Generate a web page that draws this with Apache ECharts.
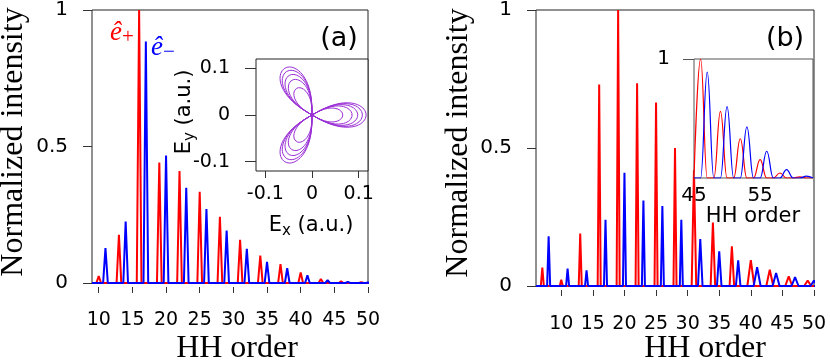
<!DOCTYPE html>
<html><head><meta charset="utf-8">
<script src="https://cdn.jsdelivr.net/npm/echarts@6/dist/echarts.min.js"></script>
<style>html,body{margin:0;padding:0;background:#fff}#c{width:830px;height:363px}</style>
</head><body><div id="c"></div>
<script>
// ---- tick labels ----
const xTicksMain = [10, 15, 20, 25, 30, 35, 40, 45, 50];
const yTicksMain = [0, 0.5, 1];
const insetATicks = [-0.1, 0, 0.1];
const insetBXTicks = [45, 55];
const insetBYTicks = [1];

// ---- panel (a) harmonic peaks ----
const aRedOrders  = [10, 13, 16, 19, 22, 25, 28, 31, 34, 37, 40, 43, 46, 49];
const aRedPeaks   = [0.025, 0.177, 1.0, 0.441, 0.41, 0.334, 0.243, 0.158, 0.10, 0.069, 0.039, 0.015, 0.006, 0.003];
const aBlueOrders = [11, 14, 17, 20, 23, 26, 29, 32, 35, 38, 41, 44, 47, 50];
const aBluePeaks  = [0.128, 0.225, 0.885, 0.467, 0.349, 0.271, 0.192, 0.125, 0.077, 0.054, 0.028, 0.010, 0.004, 0.002];

// ---- panel (a) inset: field loop amplitudes (a.u.) ----
const insetALoopAmps = [0.116, 0.108, 0.098, 0.086, 0.066];

// ---- panel (b) harmonic peaks ----
const bRedOrders  = [7, 10, 13, 16, 19, 22, 25, 28, 31, 34, 37, 40, 43, 46, 49];
const bRedPeaks   = [0.067, 0.023, 0.19, 0.73, 1.0, 0.735, 0.665, 0.50, 0.42, 0.23, 0.144, 0.094, 0.059, 0.035, 0.02];
const bBlueOrders = [8, 11, 14, 17, 20, 23, 26, 29, 32, 35, 38, 41, 44, 47, 50];
const bBluePeaks  = [0.18, 0.063, 0.057, 0.24, 0.41, 0.31, 0.29, 0.24, 0.17, 0.126, 0.093, 0.068, 0.047, 0.032, 0.02];

// ---- panel (b) inset (renormalised tail) ----
const ibRedOrders  = [46, 49, 52, 55, 58, 61];
const ibRedPeaks   = [1.0, 0.56, 0.33, 0.155, 0.042, 0.01];
const ibBlueOrders = [47, 50, 53, 56, 59, 62];
const ibBluePeaks  = [0.89, 0.60, 0.43, 0.225, 0.07, 0.015];

function peakLine(orders, peaks, halfW, xmin, xmax) {
  const d = [[xmin, 0]];
  orders.forEach((o, i) => {
    const w = typeof halfW === 'function' ? halfW(o) : halfW;
    d.push([o - w, 0], [o, peaks[i]], [o + w, 0]);
  });
  d.push([xmax, 0]);
  return d;
}
function fieldLoops(amps) {
  const pts = [];
  amps.forEach(a => {
    for (let k = 0; k <= 180; k++) {
      const th = Math.PI / 6 + Math.PI * k / 180;
      const c = Math.cos(3 * th);
      const r = a * Math.sign(c) * Math.pow(Math.abs(c), 0.6);
      pts.push([r * Math.cos(th), r * Math.sin(th)]);
    }
  });
  return pts;
}
const bWidth = o => (o < 30 ? 0.24 : (o < 40 ? 0.36 : 0.55));

const SANS = 'DejaVu Sans', SERIF = 'Liberation Serif';
const RED = '#ff0000', BLUE = '#0000ff', PURPLE = '#9a2fd6';

function mainX(idx, min, max, margin) {
  return { gridIndex: idx, type: 'value', min, max, offset: 4, position: 'bottom',
    axisLine: { show: false, onZero: false },
    axisTick: { show: true, length: 6, customValues: xTicksMain, lineStyle: { color: '#333' } },
    axisLabel: { customValues: xTicksMain, fontFamily: SANS, fontSize: 19, color: '#000', margin },
    splitLine: { show: false } };
}
function mainY(idx) {
  return { gridIndex: idx, type: 'value', min: 0, max: 1, position: 'left',
    axisLine: { show: false, onZero: false },
    axisTick: { show: true, length: 9, customValues: yTicksMain, lineStyle: { color: '#333' } },
    axisLabel: { customValues: yTicksMain, fontFamily: SANS, fontSize: 20, color: '#000', margin: 24 },
    splitLine: { show: false } };
}

const chart = echarts.init(document.getElementById('c'), null, { renderer: 'canvas' });
chart.setOption({
  animation: false,
  backgroundColor: '#fff',
  textStyle: { fontFamily: SANS },
  grid: [
    { left: 92, top: 7, width: 276, height: 276, show: true, borderColor: '#222', borderWidth: 1, backgroundColor: 'transparent' },
    { left: 256, top: 59, width: 112, height: 112, show: true, borderColor: '#222', borderWidth: 1, backgroundColor: '#fff', z: 4 },
    { left: 536, top: 8, width: 278, height: 278, show: true, borderColor: '#222', borderWidth: 1, backgroundColor: 'transparent' },
    { left: 694, top: 59, width: 119, height: 119, show: true, borderColor: '#555', borderWidth: 1, backgroundColor: '#fff', z: 4 }
  ],
  xAxis: [
    mainX(0, 9, 50, 24),
    { gridIndex: 1, type: 'value', min: -0.12, max: 0.12, z: 6, position: 'bottom',
      axisLine: { show: false, onZero: false },
      axisTick: { show: true, length: 7, customValues: insetATicks, lineStyle: { color: '#333' } },
      axisLabel: { customValues: insetATicks, fontFamily: SANS, fontSize: 19, color: '#000', margin: 14 },
      splitLine: { show: false } },
    mainX(2, 6, 50, 25),
    { gridIndex: 3, type: 'value', min: 45, max: 63, z: 6, position: 'bottom',
      axisLine: { show: false, onZero: false },
      axisTick: { show: false },
      axisLabel: { customValues: insetBXTicks, fontFamily: SANS, fontSize: 20, color: '#000', margin: 8 },
      splitLine: { show: false } }
  ],
  yAxis: [
    mainY(0),
    { gridIndex: 1, type: 'value', min: -0.12, max: 0.12, z: 6, position: 'left',
      axisLine: { show: false, onZero: false },
      axisTick: { show: true, length: 11, customValues: insetATicks, lineStyle: { color: '#333' } },
      axisLabel: { customValues: insetATicks, fontFamily: SANS, fontSize: 19, color: '#000', margin: 26 },
      splitLine: { show: false } },
    mainY(2),
    { gridIndex: 3, type: 'value', min: 0, max: 1, z: 6, position: 'left',
      axisLine: { show: false, onZero: false },
      axisTick: { show: true, length: 11, customValues: insetBYTicks, lineStyle: { color: '#555' } },
      axisLabel: { customValues: insetBYTicks, fontFamily: SANS, fontSize: 20, color: '#000', margin: 24 },
      splitLine: { show: false } }
  ],
  series: [
    { type: 'line', xAxisIndex: 0, yAxisIndex: 0, showSymbol: false, z: 2,
      data: peakLine(aRedOrders, aRedPeaks, 0.35, 9, 50), lineStyle: { color: RED, width: 2 } },
    { type: 'line', xAxisIndex: 0, yAxisIndex: 0, showSymbol: false, z: 2,
      data: peakLine(aBlueOrders, aBluePeaks, 0.35, 9, 50), lineStyle: { color: BLUE, width: 2 } },
    { type: 'line', xAxisIndex: 1, yAxisIndex: 1, showSymbol: false, z: 5,
      data: fieldLoops(insetALoopAmps), lineStyle: { color: PURPLE, width: 1 } },
    { type: 'line', xAxisIndex: 2, yAxisIndex: 2, showSymbol: false, z: 2,
      data: peakLine(bRedOrders, bRedPeaks, bWidth, 6, 50), lineStyle: { color: RED, width: 2 } },
    { type: 'line', xAxisIndex: 2, yAxisIndex: 2, showSymbol: false, z: 2,
      data: peakLine(bBlueOrders, bBluePeaks, bWidth, 6, 50), lineStyle: { color: BLUE, width: 2 } },
    { type: 'line', xAxisIndex: 3, yAxisIndex: 3, showSymbol: false, z: 5, smooth: 0.45, smoothMonotone: 'x',
      data: peakLine(ibRedOrders, ibRedPeaks, 1.0, 45, 63), lineStyle: { color: RED, width: 1.2 } },
    { type: 'line', xAxisIndex: 3, yAxisIndex: 3, showSymbol: false, z: 5, smooth: 0.45, smoothMonotone: 'x',
      data: peakLine(ibBlueOrders, ibBluePeaks, 1.0, 45, 63), lineStyle: { color: BLUE, width: 1.2 } }
  ],
  graphic: { elements: [
    { type: 'text', x: 14, y: 142, rotation: Math.PI / 2, z: 10,
      style: { text: 'Normalized intensity', font: '32px "Liberation Serif"', fill: '#000', align: 'center', verticalAlign: 'middle' } },
    { type: 'text', x: 459, y: 143, rotation: Math.PI / 2, z: 10,
      style: { text: 'Normalized intensity', font: '32px "Liberation Serif"', fill: '#000', align: 'center', verticalAlign: 'middle' } },
    { type: 'text', x: 237, y: 349, z: 10,
      style: { text: 'HH order', font: '32px "Liberation Serif"', fill: '#000', align: 'center', verticalAlign: 'middle' } },
    { type: 'text', x: 705, y: 349, z: 10,
      style: { text: 'HH order', font: '32px "Liberation Serif"', fill: '#000', align: 'center', verticalAlign: 'middle' } },
    { type: 'text', x: 339, y: 39, z: 10,
      style: { text: '(a)', font: '27px "DejaVu Sans"', fill: '#000', align: 'center', verticalAlign: 'middle' } },
    { type: 'text', x: 785, y: 39, z: 10,
      style: { text: '(b)', font: '27px "DejaVu Sans"', fill: '#000', align: 'center', verticalAlign: 'middle' } },
    { type: 'text', x: 753, y: 217, z: 10,
      style: { text: 'HH order', font: '21px "DejaVu Sans"', fill: '#000', align: 'center', verticalAlign: 'middle' } },
    { type: 'text', x: 311, y: 226, z: 10,
      style: { text: '{e|E}{s|x}{e| (a.u.)}', align: 'center', verticalAlign: 'middle',
        rich: { e: { fontFamily: SANS, fontSize: 21, lineHeight: 26, fill: '#000' },
                s: { fontFamily: SANS, fontSize: 15, lineHeight: 10, verticalAlign: 'bottom', fill: '#000' } } } },
    { type: 'text', x: 185, y: 112, rotation: Math.PI / 2, z: 10,
      style: { text: '{e|E}{s|y}{e| (a.u.)}', align: 'center', verticalAlign: 'middle',
        rich: { e: { fontFamily: SANS, fontSize: 21, lineHeight: 26, fill: '#000' },
                s: { fontFamily: SANS, fontSize: 15, lineHeight: 10, verticalAlign: 'bottom', fill: '#000' } } } },
    { type: 'text', x: 110, y: 33, z: 10,
      style: { text: '{e|ê}{s|+}', align: 'left', verticalAlign: 'middle',
        rich: { e: { fontFamily: SERIF, fontStyle: 'italic', fontSize: 27, lineHeight: 30, fill: RED },
                s: { fontFamily: SERIF, fontSize: 21, lineHeight: 16, verticalAlign: 'bottom', fill: RED } } } },
    { type: 'text', x: 151, y: 48, z: 10,
      style: { text: '{e|ê}{s|−}', align: 'left', verticalAlign: 'middle',
        rich: { e: { fontFamily: SERIF, fontStyle: 'italic', fontSize: 27, lineHeight: 30, fill: BLUE },
                s: { fontFamily: SERIF, fontSize: 21, lineHeight: 16, verticalAlign: 'bottom', fill: BLUE } } } }
  ] }
});
</script>
</body></html>
